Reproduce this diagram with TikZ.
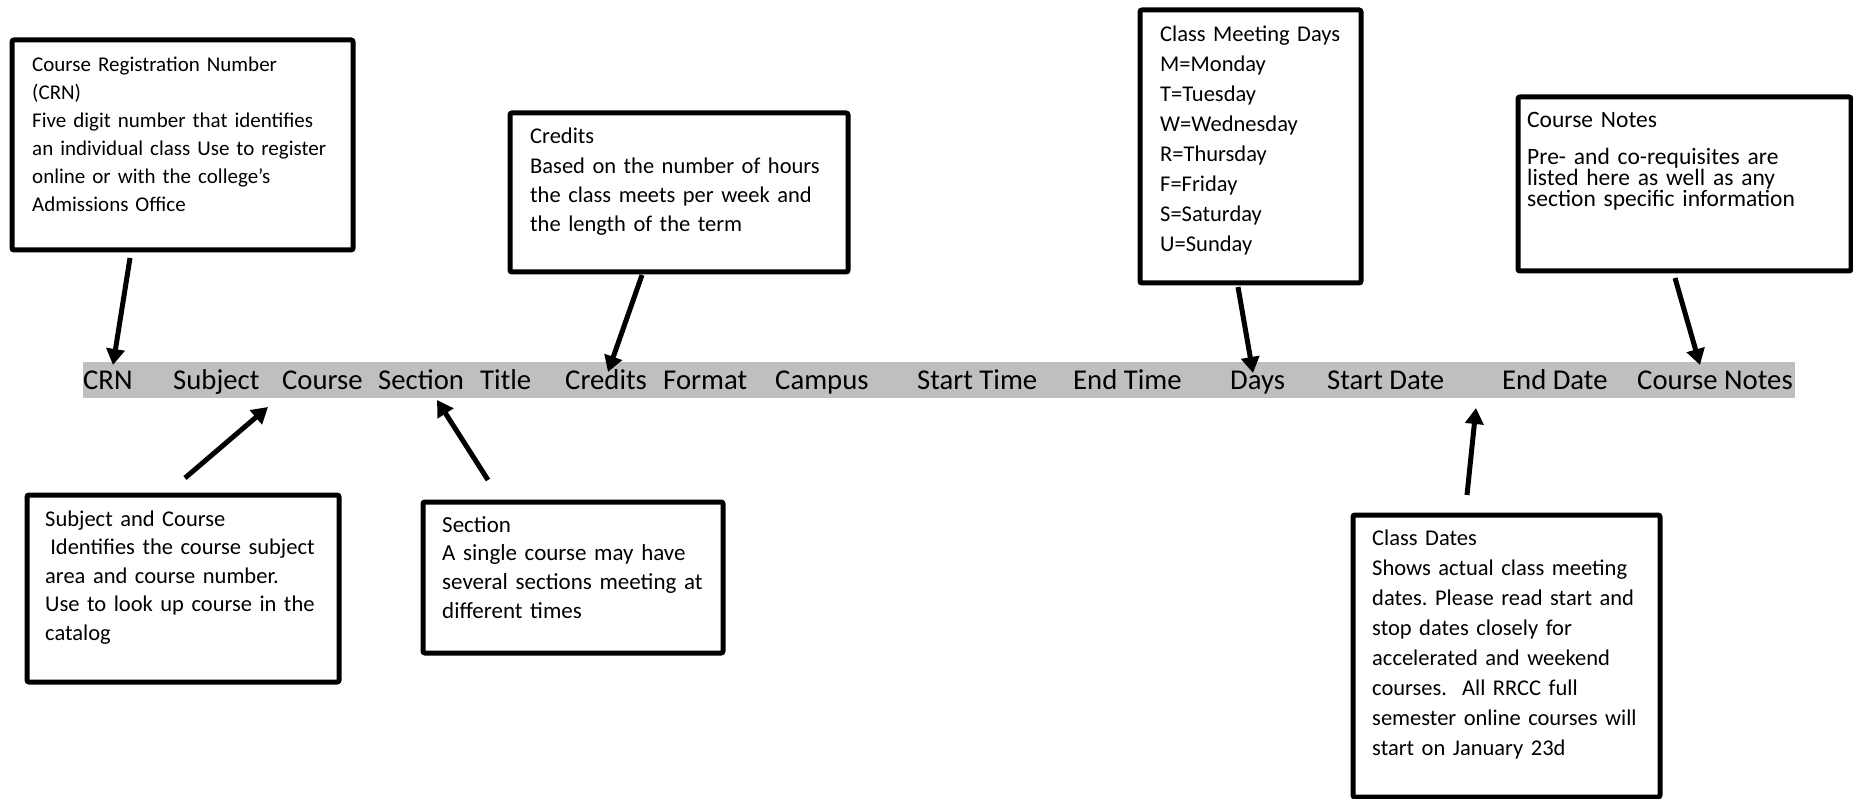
\documentclass[tikz,border=0pt]{standalone}
\usepackage{fontspec}
\setmainfont{Carlito}
\usetikzlibrary{arrows.meta}
\definecolor{bargray}{RGB}{191,191,191}
\AtBeginDocument{\setlength{\lineskiplimit}{-50pt}\setlength{\lineskip}{0pt}\frenchspacing}
\begin{document}
\begin{tikzpicture}[x=1pt,y=-1pt,
  box/.style={draw=black, line width=5pt, rounded corners=2pt, inner sep=0pt, anchor=north west},
  btxt/.style={anchor=base west, inner sep=0pt, align=left, text width=#1},
  bartxt/.style={anchor=base west, inner sep=0pt, font=\fontsize{28.7}{34}\selectfont},
  arr/.style={line width=5pt, -{Triangle[width=18pt,length=16pt]}}
]
\useasboundingbox (0,0) rectangle (1853,799);
\fill[white] (0,0) rectangle (1853,799);

% bar with column headings
\node[fill=bargray, inner sep=0pt, minimum width=1712pt, minimum height=36pt, anchor=north west] (bar) at (83,362) {};
\node[bartxt] (hcrn) at (83,390) {CRN};
\node[bartxt] (hsub) at (173,390) {Subject};
\node[bartxt] (hcou) at (282,390) {Course};
\node[bartxt] (hsec) at (378,390) {Section};
\node[bartxt] (htit) at (480,390) {Title};
\node[bartxt] (hcre) at (565,390) {Credits};
\node[bartxt] (hfor) at (663,390) {Format};
\node[bartxt] (hcam) at (775,390) {Campus};
\node[bartxt] (hst) at (917,390) {Start Time};
\node[bartxt] (het) at (1073,390) {End Time};
\node[bartxt] (hday) at (1230,390) {Days};
\node[bartxt] (hsd) at (1327,390) {Start Date};
\node[bartxt] (hed) at (1502,390) {End Date};
\node[bartxt] (hcn) at (1637,390) {Course Notes};

% boxes
\node[box, minimum width=341pt, minimum height=210pt] (crnbox) at (9.5,37.5) {};
\node[btxt=310pt, font=\fontsize{21}{28}\selectfont] (crntxt) at (32,72)
  {Course Registration Number\\(CRN)\\Five digit number that identifies\\an individual class Use to register\\online or with the college’s\\Admissions Office};

\node[box, minimum width=338pt, minimum height=159pt] (crebox) at (507.5,110.5) {};
\node[btxt=300pt, font=\fontsize{22.5}{29.3}\selectfont] (cretxt) at (530,144)
  {Credits\\Based on the number of hours\\the class meets per week and\\the length of the term};

\node[box, minimum width=221pt, minimum height=273pt] (daybox) at (1137.5,7.5) {};
\node[btxt=190pt, font=\fontsize{22.5}{30}\selectfont] (daytxt) at (1160,42)
  {Class Meeting Days\\M=Monday\\T=Tuesday\\W=Wednesday\\R=Thursday\\F=Friday\\S=Saturday\\U=Sunday};

\node[box, minimum width=333pt, minimum height=174pt] (notbox) at (1515.5,94.5) {};
\node[btxt=310pt, font=\fontsize{23.5}{21}\selectfont] (nottxt) at (1527,128)
  {Course Notes\\[16pt]Pre- and co-requisites are\\listed here as well as any\\section specific information};

\node[box, minimum width=307pt, minimum height=282pt] (datbox) at (1350.5,512.5) {};
\node[btxt=275pt, font=\fontsize{22.5}{30}\selectfont] (dattxt) at (1372,545)
  {Class Dates\\Shows actual class meeting\\dates. Please read start and\\stop dates closely for\\accelerated and weekend\\courses.\ \ All RRCC full\\semester online courses will\\start on January 23d};

\node[box, minimum width=312pt, minimum height=187pt] (subbox) at (24.5,492.5) {};
\node[btxt=285pt, font=\fontsize{22.5}{28.6}\selectfont] (subtxt) at (45,526)
  {Subject and Course\\\hspace*{0.226em}Identifies the course subject\\area and course number.\\Use to look up course in the\\catalog};

\node[box, minimum width=300pt, minimum height=151pt] (secbox) at (420.5,499.5) {};
\node[btxt=270pt, font=\fontsize{23}{28.7}\selectfont] (sectxt) at (442,532)
  {Section\\A single course may have\\several sections meeting at\\different times};

% arrows
\coordinate (a1s) at (130,258);  \coordinate (a1e) at (113,365);
\coordinate (a2s) at (642,275);  \coordinate (a2e) at (608,372);
\coordinate (a3s) at (1238,287); \coordinate (a3e) at (1253,373);
\coordinate (a4s) at (1675,278); \coordinate (a4e) at (1700,365);
\coordinate (a5s) at (1467,495); \coordinate (a5e) at (1476,408);
\coordinate (a6s) at (185,478);  \coordinate (a6e) at (268,407);
\coordinate (a7s) at (488,480);  \coordinate (a7e) at (437,400);
\draw[arr] (a1s) -- (a1e);
\draw[arr] (a2s) -- (a2e);
\draw[arr] (a3s) -- (a3e);
\draw[arr] (a4s) -- (a4e);
\draw[arr] (a5s) -- (a5e);
\draw[arr] (a6s) -- (a6e);
\draw[arr] (a7s) -- (a7e);
\end{tikzpicture}
\end{document}
